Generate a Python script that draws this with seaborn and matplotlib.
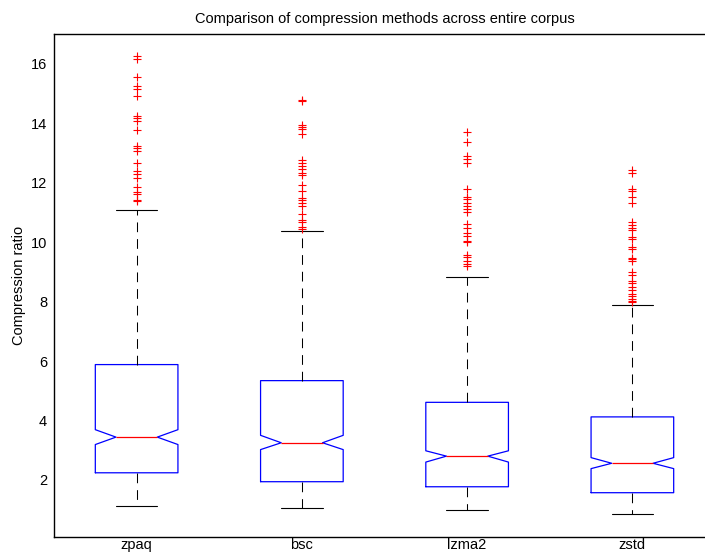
"""
Notched box plots of compression ratio per method (MATLAB look).
"""

import matplotlib
matplotlib.use("Agg")

import matplotlib.pyplot as plt
import pandas as pd
import seaborn as sns

# ==========================================================
# Data
# ==========================================================

methods = ["zpaq", "bsc", "lzma2", "zstd"]

whisker_low = [1.11, 1.06, 0.98, 0.85]
q1 = [2.24, 1.94, 1.77, 1.57]
median = [3.44, 3.25, 2.80, 2.56]
q3 = [5.88, 5.34, 4.61, 4.12]
whisker_high = [11.09, 10.36, 8.82, 7.90]
notch_low = [3.19, 3.02, 2.60, 2.38]
notch_high = [3.69, 3.50, 2.98, 2.75]

zpaq_outliers = [
    16.25, 16.16, 15.54, 15.25, 15.14, 14.91, 14.24, 14.17, 14.07, 13.78,
    13.22, 13.15, 13.08, 12.67, 12.38, 12.30, 12.17, 11.86, 11.67, 11.61,
    11.43, 11.37,
]
bsc_outliers = [
    14.79, 14.73, 13.95, 13.86, 13.79, 13.63, 12.75, 12.66, 12.57, 12.46,
    12.32, 12.26, 11.92, 11.73, 11.47, 11.40, 11.31, 11.22, 10.95, 10.75,
    10.66, 10.52, 10.45,
]
lzma2_outliers = [
    13.69, 13.37, 12.88, 12.80, 12.66, 11.78, 11.53, 11.46, 11.30, 11.21,
    11.13, 11.02, 10.60, 10.47, 10.31, 10.19, 10.05, 9.99, 9.56, 9.51,
    9.35, 9.27, 9.19,
]
zstd_outliers = [
    12.41, 12.32, 11.78, 11.73, 11.51, 11.33, 10.66, 10.59, 10.46, 10.40,
    10.18, 10.11, 9.83, 9.76, 9.48, 9.43, 9.37, 8.98, 8.88, 8.70,
    8.64, 8.49, 8.39, 8.27, 8.19, 8.10, 8.03, 7.97,
]

y_ticks = [2, 4, 6, 8, 10, 12, 14, 16]

# ==========================================================
# Plot Style
# ==========================================================

sns.set_theme(style="white")
plt.rcParams["font.family"] = ["Liberation Sans", "DejaVu Sans"]
plt.rcParams["lines.scale_dashes"] = False


def main() -> None:
    """Draw the chart and save it."""

    fig = plt.figure(figsize=(7.05, 5.55), dpi=100)
    ax = fig.add_axes([54 / 705, 18 / 555, 661 / 705, 503 / 555])

    # Outliers drawn by seaborn on the categorical axis
    outliers = pd.DataFrame({
        "method": (
            ["zpaq"] * len(zpaq_outliers)
            + ["bsc"] * len(bsc_outliers)
            + ["lzma2"] * len(lzma2_outliers)
            + ["zstd"] * len(zstd_outliers)
        ),
        "ratio": zpaq_outliers + bsc_outliers + lzma2_outliers + zstd_outliers,
    })

    sns.stripplot(
        data=outliers,
        x="method",
        y="ratio",
        order=methods,
        jitter=False,
        marker="+",
        color="red",
        edgecolor="red",
        size=5.8,
        linewidth=0.8,
        ax=ax,
    )

    # Notched boxes from the summary statistics
    stats = []
    for i, name in enumerate(methods):
        stats.append({
            "label": name,
            "whislo": whisker_low[i],
            "q1": q1[i],
            "med": median[i],
            "q3": q3[i],
            "whishi": whisker_high[i],
            "cilo": notch_low[i],
            "cihi": notch_high[i],
            "fliers": [],
        })

    ax.bxp(
        stats,
        positions=range(len(methods)),
        widths=0.5,
        shownotches=True,
        showfliers=False,
        manage_ticks=False,
        boxprops={"color": "blue", "linewidth": 0.9},
        medianprops={"color": "red", "linewidth": 0.9},
        whiskerprops={"color": "black", "linewidth": 0.75,
                      "linestyle": (0, (7, 5))},
        capprops={"color": "black", "linewidth": 0.8},
    )

    ax.set_xlim(-0.5, 3.5)
    ax.set_ylim(0.08, 17.0)
    ax.set_yticks(y_ticks)
    ax.set_xticks(range(len(methods)))
    ax.set_xticklabels(methods)

    ax.tick_params(axis="y", direction="in", length=4.5, width=0.75,
                   labelsize=10.5, pad=5, colors="black")
    ax.tick_params(axis="x", length=0, labelsize=10.5, pad=1, colors="black")

    for side in ["left", "bottom", "top"]:
        ax.spines[side].set_color("black")
        ax.spines[side].set_linewidth(1.0)
    ax.spines["right"].set_visible(False)

    ax.set_xlabel("")
    ax.set_ylabel("Compression ratio", fontsize=10.5, color="black")
    ax.yaxis.set_label_coords(-0.042, 0.5)
    ax.set_title("Comparison of compression methods across entire corpus",
                 fontsize=10.5, color="black", pad=8)

    fig.savefig("out.png", dpi=100)
    plt.close(fig)


if __name__ == "__main__":
    main()
